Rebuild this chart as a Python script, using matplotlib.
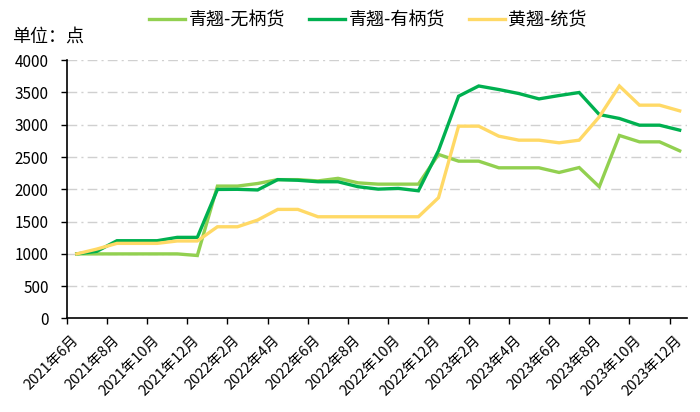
import matplotlib
matplotlib.use("Agg")
import matplotlib.pyplot as plt
from matplotlib.ticker import FixedLocator

plt.rcParams['font.family'] = ['Noto Sans CJK SC', 'DejaVu Sans']

months = [f"{y}年{m}月" for y, m in
          [(2021, m) for m in range(6, 13)] + [(2022, m) for m in range(1, 13)] + [(2023, m) for m in range(1, 13)]]

wubing = [1000, 1000, 1000, 1000, 1000, 1000, 975, 2050, 2050, 2090, 2150, 2150,
          2130, 2170, 2100, 2080, 2080, 2080, 2540, 2436, 2436, 2333, 2333, 2333,
          2261, 2337, 2040, 2834, 2735, 2735, 2596]
youbing = [1000, 1040, 1204, 1204, 1204, 1256, 1256, 1998, 2000, 1990, 2150, 2140,
           2117, 2117, 2040, 2003, 2014, 1977, 2600, 3442, 3600, 3545, 3483, 3400,
           3452, 3499, 3158, 3097, 2993, 2993, 2916]
huangqiao = [1000, 1075, 1163, 1163, 1163, 1200, 1200, 1420, 1420, 1524, 1689, 1689,
             1575, 1575, 1575, 1575, 1575, 1575, 1870, 2978, 2978, 2823, 2761, 2761,
             2720, 2761, 3122, 3600, 3303, 3303, 3215]

series_names = ["青翘-无柄货", "青翘-有柄货", "黄翘-统货"]
colors = ["#92D050", "#00B050", "#FFD966"]
y_ticks = [0, 500, 1000, 1500, 2000, 2500, 3000, 3500, 4000]

fig = plt.figure(figsize=(7.0, 4.12), dpi=100)
ax = fig.add_axes([0.0953, 0.227, 0.8857, 0.627])

x = list(range(len(months)))
for vals, name, c in zip([wubing, youbing, huangqiao], series_names, colors):
    ax.plot(x, vals, color=c, lw=2.4, label=name, solid_joinstyle='miter', zorder=3)

ax.set_ylim(0, 4000)
ax.set_xlim(-0.5, 30.35)
ax.set_yticks(y_ticks)
ax.set_yticklabels([str(v) for v in y_ticks], fontsize=11)
for v in y_ticks[1:]:
    ax.axhline(v, color="#D0D0D0", lw=1.0, ls=(0, (7, 3, 1.5, 3)), zorder=1)

label_pos = x[::2]
ax.set_xticks(label_pos)
ax.set_xticklabels([months[i] for i in label_pos], rotation=45, ha='right',
                   va='center', rotation_mode='anchor', fontsize=10.5)
ax.tick_params(axis='x', which='major', length=0, pad=14)
ax.xaxis.set_minor_locator(FixedLocator([i - 0.5 for i in label_pos]))
ax.tick_params(axis='x', which='minor', length=4, width=1, direction='out', color='black')
ax.tick_params(axis='y', length=4, width=1, direction='out', pad=9)

for s in ['top', 'right']:
    ax.spines[s].set_visible(False)
for s in ['left', 'bottom']:
    ax.spines[s].set_color('black')
    ax.spines[s].set_linewidth(1.2)

fig.text(12 / 700, 1 - 37 / 412, "单位：点", fontsize=13, va='center', ha='left')

fig.legend(loc='center', bbox_to_anchor=(368 / 700, 1 - 20 / 412), ncol=3, frameon=False,
           fontsize=13, handlelength=2.0, handletextpad=0.2, columnspacing=1.3)

fig.savefig("out.png", dpi=100)
